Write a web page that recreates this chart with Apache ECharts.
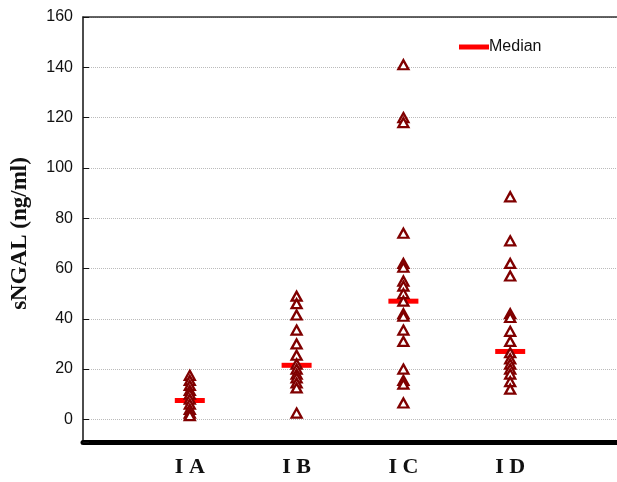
<!DOCTYPE html>
<html>
<head>
<meta charset="utf-8">
<script src="https://cdn.jsdelivr.net/npm/echarts@6/dist/echarts.min.js"></script>
<style>
  html, body { margin: 0; padding: 0; background: #fff; }
  #chart { width: 617px; height: 482px; }
</style>
</head>
<body>
<div id="chart"></div>
<script>
const groups = ['I A', 'I B', 'I C', 'I D']
const groupIA = [17.5, 15.5, 13.5, 11.5, 10, 8, 6, 4, 2.5, 1.5]
const groupIB = [49, 46, 41.5, 35.5, 30, 25.5, 22, 20, 18, 16.5, 14.5, 12.5, 2.5]
const groupIC = [141, 120, 118, 74, 62, 60.5, 55, 53, 50, 47, 42, 41, 35.5, 31, 20, 15.5, 14, 6.5]
const groupID = [88.5, 71, 62, 57, 42, 40.5, 35, 31, 26.5, 24, 22, 20, 18, 15, 12]
const medians = [7.5, 21.5, 47, 27]

const chart = echarts.init(document.getElementById('chart'))

const points = []
;[groupIA, groupIB, groupIC, groupID].forEach((vals, i) => {
  vals.forEach(v => points.push([i + 1, v]))
})

const option = {
  animation: false,
  grid: { left: 83, right: 0, top: 17, bottom: 40, outerBoundsMode: 'none' },
  legend: {
    data: [{ name: 'Median', icon: 'rect' }],
    left: 454,
    top: 34,
    itemWidth: 30,
    itemHeight: 5,
    textStyle: { fontFamily: 'Liberation Sans', fontSize: 16, color: '#111', padding: [0, 0, 0, -5] }
  },
  xAxis: [
    {
      type: 'value',
      min: 0,
      max: 5,
      interval: 1,
      splitLine: { show: false },
      axisTick: { show: false },
      axisLine: { onZero: false, lineStyle: { color: '#000', width: 5 } },
      axisLabel: {
        margin: 14,
        fontFamily: 'Liberation Serif',
        fontWeight: 'bold',
        fontSize: 22,
        color: '#111',
        formatter: v => groups[v - 1] || ''
      }
    },
    {
      type: 'value',
      position: 'top',
      min: 0,
      max: 5,
      splitLine: { show: false },
      axisTick: { show: false },
      axisLabel: { show: false },
      axisLine: { onZero: false, lineStyle: { color: '#333', width: 1.5 } }
    }
  ],
  yAxis: {
    type: 'value',
    min: -9,
    max: 160,
    splitNumber: 8,
    name: 'sNGAL (ng/ml)',
    nameLocation: 'middle',
    nameGap: 51,
    nameTextStyle: { fontFamily: 'Liberation Serif', fontWeight: 'bold', fontSize: 23, color: '#111', padding: [0, 8, 0, 0] },
    axisLine: { show: true, lineStyle: { color: '#111', width: 1.5 } },
    axisTick: { show: true, inside: true, length: 6, lineStyle: { color: '#111' } },
    axisLabel: {
      margin: 10,
      fontFamily: 'Liberation Sans',
      fontSize: 16,
      color: '#111',
      formatter: v => (v % 20 === 0 ? v : '')
    },
    splitLine: { show: true, lineStyle: { color: '#bbb', type: 'dotted', width: 1 } }
  },
  series: [
    {
      name: 'Median',
      type: 'scatter',
      symbol: 'rect',
      symbolSize: [30, 5],
      itemStyle: { color: '#ff0000', opacity: 1 },
      data: medians.map((m, i) => [i + 1, m]),
      z: 2
    },
    {
      name: 'sNGAL',
      type: 'scatter',
      symbol: 'triangle',
      symbolSize: [10, 9],
      itemStyle: { color: '#fff', borderColor: '#800000', borderWidth: 2.3, opacity: 1 },
      data: points,
      z: 3
    }
  ]
}
chart.setOption(option)
</script>
</body>
</html>
